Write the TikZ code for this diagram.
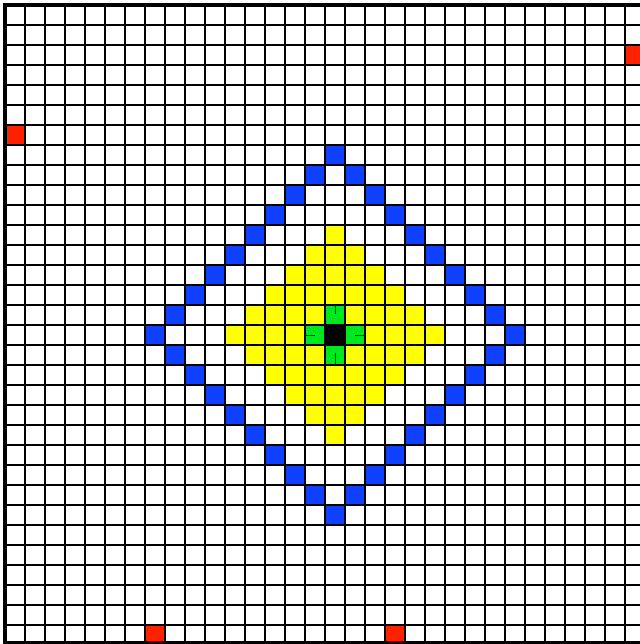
\documentclass[tikz,border=0pt]{standalone}
\usepackage{xcolor}
\usepackage{tikz}
\definecolor{pred}{HTML}{FF2200}
\definecolor{pblue}{HTML}{1040FF}
\definecolor{pyellow}{HTML}{FFFF00}
\definecolor{pgreen}{HTML}{00E620}
\tikzset{
  cellfill/.style={fill=#1, draw=none},
  cellfill/.default=white,
  gridline/.style={draw=black, line width=0.75pt, step=0.5cm},
  frameline/.style={draw=black, line width=2.2pt},
  tick/.style={draw=black, line width=0.7pt},
}

\begin{document}
\begin{tikzpicture}[x=0.5cm, y=-0.5cm]
  \useasboundingbox (-0.25,-0.25) rectangle (31.75,31.95);

  % --- anneau bleu
  \foreach \dx in {-9,...,9} {
    \pgfmathtruncatemacro\dy{9-abs(\dx)}
    \fill[cellfill=pblue] ({16+\dx},{16-\dy}) rectangle ++(1,1);
    \fill[cellfill=pblue] ({16+\dx},{16+\dy}) rectangle ++(1,1);
  }

  % --- losange jaune
  \foreach \dx in {-5,...,5} {
    \pgfmathtruncatemacro\h{5-abs(\dx)}
    \fill[cellfill=pyellow] ({16+\dx},{16-\h}) rectangle ({17+\dx},{17+\h});
  }

  % --- centre
  \fill[cellfill=pgreen] (16,15) rectangle ++(1,1);
  \fill[cellfill=pgreen] (15,16) rectangle ++(1,1);
  \fill[cellfill=pgreen] (17,16) rectangle ++(1,1);
  \fill[cellfill=pgreen] (16,17) rectangle ++(1,1);
  \fill[cellfill=black] (16,16) rectangle ++(1,1);

  % --- cases rouges
  \foreach \c/\r in {31/2, 0/6, 7/31, 19/31}
    \fill[cellfill=pred] (\c,\r) rectangle ++(1,1);

  % --- grille
  \draw[gridline] (0,0) grid (32,31.9);
  \draw[frameline] (32.5,0) -- (0,0) -- (0,31.9) -- (32.5,31.9);

  % --- traits
  \draw[tick] (16.5,15) -- (16.5,15.45);
  \draw[tick] (16.5,18) -- (16.5,17.4);
  \draw[tick] (15,16.5) -- (15.5,16.5);
  \draw[tick] (18,16.5) -- (17.5,16.5);
\end{tikzpicture}
\end{document}
